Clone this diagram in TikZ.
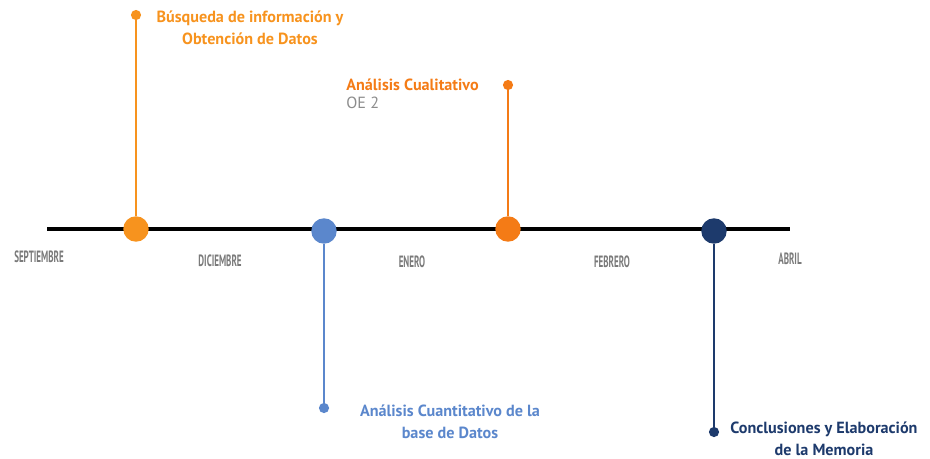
\documentclass[tikz,border=0pt]{standalone}
\usepackage{fontspec}
\setmainfont{PT Sans}
\newfontfamily\monthfont[FakeStretch=0.55]{PT Sans}
\usepackage{tikz}
\definecolor{orangeA}{HTML}{F7931E}
\definecolor{orangeB}{HTML}{F47B16}
\definecolor{blueA}{HTML}{5B87CC}
\definecolor{navyA}{HTML}{1D3A6C}
\definecolor{greyA}{HTML}{8C8C8C}
\definecolor{greyB}{HTML}{7A7A7A}
\tikzset{
  bigdot/.style={circle,fill=#1,inner sep=0pt,minimum size=14.5pt},
  smalldot/.style={circle,fill=#1,inner sep=0pt,minimum size=5.8pt},
  stem/.style={#1,line width=1.2pt},
  milestone/.style={text=#1,font=\bfseries\fontsize{9.2}{12.5}\selectfont,align=center,inner sep=0pt},
  month/.style={text=greyB,font=\monthfont\bfseries\fontsize{9.3}{10}\selectfont,inner sep=0pt}
}
\begin{document}
\begin{tikzpicture}[x=0.02cm,y=-0.02cm]
  \useasboundingbox (0,0) rectangle (930,458);

  % timeline
  \coordinate (start) at (47,229);
  \coordinate (end) at (790,229);
  \draw[line width=2.6pt,black] (start)--(end);

  % big points on the line
  \node[bigdot=orangeA] at (136,229) (p1) {};
  \node[bigdot=blueA] at (324,231) (p2) {};
  \node[bigdot=orangeB] at (508,229) (p3) {};
  \node[bigdot=navyA] at (714,231) (p4) {};

  % ends of the stems
  \node[smalldot=orangeA] at (136,15) (e1) {};
  \node[smalldot=blueA] at (324,408) (e2) {};
  \node[smalldot=orangeB] at (508,85) (e3) {};
  \node[smalldot=navyA] at (714,432) (e4) {};

  \draw[stem=orangeA] (p1)--(e1);
  \draw[stem=blueA] (p2)--(e2);
  \draw[stem=orangeB] (p3)--(e3);
  \draw[stem=navyA] (p4)--(e4);

  % labels
  \node[milestone=orangeA] at (250,28) (l1) {Búsqueda de información y\\Obtención de Datos};
  \node[milestone=orangeB,anchor=west] at (346,85) (l3) {Análisis Cualitativo};
  \node[text=greyA,font=\fontsize{9.2}{10}\selectfont,anchor=west,inner sep=0pt] at (346,103) (oe) {OE 2};
  \node[milestone=blueA] at (450,422) (l2) {Análisis Cuantitativo de la\\base de Datos};
  \node[milestone=navyA] at (824,439) (l4) {Conclusiones y Elaboración\\de la Memoria};

  % months
  \node[month] at (39,257) (m1) {SEPTIEMBRE};
  \node[month] at (220,261) (m2) {DICIEMBRE};
  \node[month] at (412,262) (m3) {ENERO};
  \node[month] at (612,262) (m4) {FEBRERO};
  \node[month] at (790,259) (m5) {ABRIL};
\end{tikzpicture}
\end{document}
